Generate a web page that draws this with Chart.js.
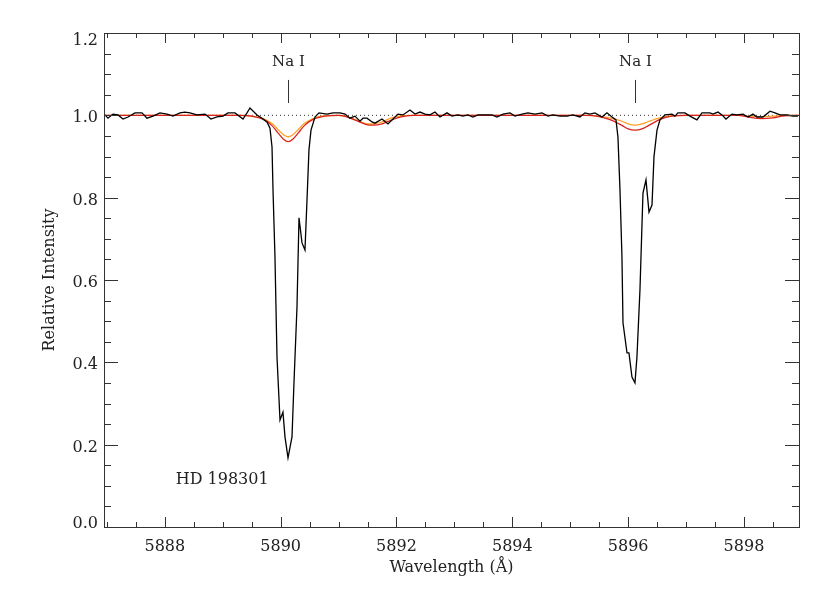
<!DOCTYPE html>
<html>
<head>
<meta charset="utf-8">
<script src="https://cdn.jsdelivr.net/npm/chart.js@4.4.0/dist/chart.umd.min.js"></script>
<style>
  html, body { margin: 0; padding: 0; background: #fff; }
  #wrap { width: 830px; height: 593px; }
</style>
</head>
<body>
<div id="wrap"><canvas id="spec"></canvas></div>
<script>
// observed spectrum (wavelength in A, relative intensity)
const waveObs = [
  5886.967, 5887.019, 5887.105, 5887.192, 5887.278, 5887.364, 5887.485, 5887.606, 5887.692, 5887.796,
  5887.917, 5888.038, 5888.141, 5888.262, 5888.348, 5888.435, 5888.556, 5888.694, 5888.797, 5888.901,
  5889.005, 5889.091, 5889.212, 5889.350, 5889.419, 5889.471, 5889.592, 5889.678, 5889.764, 5889.816,
  5889.851, 5889.868, 5889.902, 5889.937, 5889.989, 5890.040, 5890.075, 5890.127, 5890.196, 5890.230,
  5890.282, 5890.317, 5890.369, 5890.420, 5890.455, 5890.489, 5890.524, 5890.593, 5890.662, 5890.800,
  5890.904, 5891.025, 5891.111, 5891.197, 5891.283, 5891.370, 5891.422, 5891.491, 5891.577, 5891.629,
  5891.750, 5891.853, 5891.940, 5892.026, 5892.112, 5892.233, 5892.320, 5892.406, 5892.492, 5892.578,
  5892.665, 5892.751, 5892.872, 5892.958, 5893.062, 5893.148, 5893.234, 5893.320, 5893.407, 5893.528,
  5893.649, 5893.735, 5893.839, 5893.960, 5894.046, 5894.167, 5894.270, 5894.391, 5894.512, 5894.616,
  5894.702, 5894.823, 5894.944, 5895.047, 5895.168, 5895.254, 5895.341, 5895.427, 5895.548, 5895.634,
  5895.721, 5895.790, 5895.824, 5895.859, 5895.893, 5895.911, 5895.980, 5896.014, 5896.066, 5896.118,
  5896.152, 5896.204, 5896.256, 5896.308, 5896.360, 5896.412, 5896.446, 5896.498, 5896.550, 5896.636,
  5896.757, 5896.808, 5896.860, 5896.981, 5897.067, 5897.188, 5897.274, 5897.413, 5897.464, 5897.551,
  5897.620, 5897.689, 5897.793, 5897.879, 5897.983, 5898.069, 5898.155, 5898.224, 5898.328, 5898.449,
  5898.535, 5898.621, 5898.742, 5898.846, 5898.932
];
const fluxObs = [
  1.001, 0.993, 1.003, 1.001, 0.991, 0.996, 1.006, 1.006, 0.993, 0.998,
  1.006, 1.003, 0.998, 1.006, 1.008, 1.006, 1.001, 1.003, 0.991, 0.996,
  0.998, 1.006, 1.006, 0.991, 1.006, 1.018, 1.001, 0.993, 0.984, 0.969,
  0.923, 0.819, 0.656, 0.413, 0.260, 0.279, 0.219, 0.168, 0.219, 0.350,
  0.534, 0.751, 0.690, 0.673, 0.794, 0.916, 0.964, 0.996, 1.006, 1.003,
  1.006, 1.006, 1.003, 0.993, 0.998, 0.986, 0.993, 0.993, 0.984, 0.981,
  0.991, 0.979, 0.991, 1.003, 1.001, 1.013, 1.003, 1.008, 1.003, 1.001,
  1.008, 0.996, 1.006, 0.998, 1.001, 0.998, 1.001, 0.996, 1.001, 1.001,
  1.001, 0.996, 1.003, 1.006, 0.998, 1.003, 1.006, 1.003, 1.006, 0.998,
  1.001, 0.998, 0.998, 1.001, 0.996, 1.006, 1.003, 1.006, 0.996, 1.006,
  0.996, 0.989, 0.947, 0.819, 0.656, 0.496, 0.423, 0.423, 0.364, 0.350,
  0.413, 0.576, 0.811, 0.843, 0.765, 0.782, 0.899, 0.964, 0.989, 1.001,
  1.003, 0.998, 1.006, 1.006, 0.998, 0.989, 1.006, 1.006, 1.003, 1.008,
  1.001, 0.991, 1.003, 1.001, 1.003, 0.996, 1.003, 0.996, 0.996, 1.010,
  1.006, 1.001, 1.001, 0.998, 0.998
];

// model profiles
const waveModel = [
  5886.95, 5889.30, 5889.50, 5889.70, 5889.85, 5889.95, 5890.05, 5890.13, 5890.21, 5890.31,
  5890.41, 5890.56, 5890.76, 5891.00, 5891.10, 5891.30, 5891.50, 5891.60, 5891.75, 5891.90,
  5892.10, 5892.30, 5895.30, 5895.50, 5895.70, 5895.90, 5896.00, 5896.12, 5896.24, 5896.35,
  5896.55, 5896.75, 5897.00, 5897.90, 5898.10, 5898.30, 5898.50, 5898.70, 5898.95
];
const fluxRed = [
  1.000, 1.000, 0.998, 0.990, 0.975, 0.958, 0.942, 0.936, 0.942, 0.958,
  0.975, 0.990, 0.998, 1.000, 0.998, 0.988, 0.977, 0.976, 0.979, 0.988,
  0.997, 1.000, 1.000, 0.997, 0.989, 0.975, 0.967, 0.964, 0.967, 0.975,
  0.990, 0.998, 1.000, 1.000, 0.995, 0.992, 0.994, 0.999, 1.000
];
const fluxOrange = [
  1.000, 1.000, 0.998, 0.992, 0.980, 0.966, 0.953, 0.948, 0.953, 0.966,
  0.980, 0.992, 0.999, 1.000, 0.998, 0.989, 0.979, 0.979, 0.984, 0.993,
  0.999, 1.000, 1.000, 0.998, 0.993, 0.985, 0.979, 0.976, 0.979, 0.985,
  0.994, 0.999, 1.000, 1.000, 0.998, 0.997, 0.998, 1.000, 1.000
];

const xTicks = [5888, 5890, 5892, 5894, 5896, 5898];
const yTicks = [0.0, 0.2, 0.4, 0.6, 0.8, 1.0, 1.2];
const lineWaves = [5890.13, 5896.12];
const lineNames = ['Na I', 'Na I'];
const starName = 'HD 198301';

const FONT = '"DejaVu Serif", serif';
const toPts = (xs, ys) => xs.map((x, i) => ({ x: x, y: ys[i] }));

// frame, inward ticks, tick labels and annotations in IDL style
const idlFrame = {
  id: 'idlFrame',
  afterDatasetsDraw(chart) {
    const ctx = chart.ctx;
    const { left, right, top, bottom } = chart.chartArea;
    const xs = chart.scales.x, ys = chart.scales.y;
    ctx.save();
    ctx.strokeStyle = '#333';
    ctx.lineWidth = 1;
    ctx.strokeRect(left + 0.5, top + 0.5, right - left, bottom - top);
    ctx.beginPath();
    for (let v = 5887; v <= 5898.95; v += 0.5) {
      const px = Math.round(xs.getPixelForValue(v)) + 0.5;
      const len = (v % 2 === 0) ? 10 : 5;
      ctx.moveTo(px, bottom); ctx.lineTo(px, bottom - len);
      ctx.moveTo(px, top); ctx.lineTo(px, top + len);
    }
    for (let k = 0; k <= 24; k++) {
      const v = k * 0.05;
      const py = Math.round(ys.getPixelForValue(v)) + 0.5;
      const len = (k % 4 === 0) ? 14 : 7;
      ctx.moveTo(left, py); ctx.lineTo(left + len, py);
      ctx.moveTo(right, py); ctx.lineTo(right - len, py);
    }
    ctx.stroke();

    ctx.fillStyle = '#222';
    ctx.font = '16px ' + FONT;
    ctx.textBaseline = 'middle';

    // y tick labels, end labels kept inside the axis span
    ctx.textAlign = 'right';
    yTicks.forEach((v, i) => {
      let off = 3;
      if (i === 0) off = -3;
      if (i === yTicks.length - 1) off = 8;
      ctx.fillText(v.toFixed(1), left - 6, ys.getPixelForValue(v) + off);
    });

    // x tick labels
    ctx.textAlign = 'center';
    xTicks.forEach((v) => {
      ctx.fillText(v.toFixed(0), xs.getPixelForValue(v), bottom + 20);
    });

    // line identifications
    ctx.font = '15px ' + FONT;
    ctx.beginPath();
    lineWaves.forEach((w, i) => {
      const px = Math.round(xs.getPixelForValue(w)) + 0.5;
      ctx.moveTo(px, ys.getPixelForValue(1.086));
      ctx.lineTo(px, ys.getPixelForValue(1.030));
      ctx.fillText(lineNames[i], px, ys.getPixelForValue(1.129));
    });
    ctx.stroke();

    ctx.font = '16px ' + FONT;
    ctx.fillText(starName, xs.getPixelForValue(5888.99), ys.getPixelForValue(0.114));
    ctx.restore();
  }
};

new Chart(document.getElementById('spec'), {
  type: 'line',
  data: {
    datasets: [
      {
        label: 'observed',
        data: toPts(waveObs, fluxObs),
        borderColor: '#000',
        borderWidth: 1.3,
        pointRadius: 0,
        tension: 0,
        order: 0,
      },
      {
        label: 'model red',
        data: toPts(waveModel, fluxRed),
        borderColor: '#d9221c',
        borderWidth: 1.3,
        pointRadius: 0,
        cubicInterpolationMode: 'monotone',
        order: 1,
      },
      {
        label: 'model orange',
        data: toPts(waveModel, fluxOrange),
        borderColor: '#ffa126',
        borderWidth: 1.3,
        pointRadius: 0,
        cubicInterpolationMode: 'monotone',
        order: 2,
      },
      {
        label: 'continuum',
        data: [{ x: 5886.95, y: 1.0 }, { x: 5898.95, y: 1.0 }],
        borderColor: '#333',
        borderWidth: 1,
        borderDash: [1, 3],
        pointRadius: 0,
        order: 3,
      },
    ],
  },
  options: {
    responsive: true,
    maintainAspectRatio: false,
    animation: false,
    devicePixelRatio: 1,
    layout: { padding: { left: 0, right: 31, top: 33, bottom: 0 } },
    plugins: { legend: { display: false }, tooltip: { enabled: false } },
    scales: {
      x: {
        type: 'linear',
        min: 5886.95,
        max: 5898.95,
        grid: { display: false },
        border: { display: false },
        afterBuildTicks: (scale) => { scale.ticks = xTicks.map(v => ({ value: v })); },
        afterFit: (scale) => { scale.height = 66; },
        ticks: { display: false },
        title: {
          display: true,
          text: 'Wavelength (Å)',
          color: '#222',
          font: { family: FONT, size: 16 },
          padding: { top: 0, bottom: 16 },
        },
      },
      y: {
        min: 0,
        max: 1.2,
        grid: { display: false },
        border: { display: false },
        afterBuildTicks: (scale) => { scale.ticks = yTicks.map(v => ({ value: v })); },
        afterFit: (scale) => { scale.width = 104; },
        ticks: { display: false },
        title: {
          display: true,
          text: 'Relative Intensity',
          color: '#222',
          font: { family: FONT, size: 16 },
          padding: { top: 40, bottom: 0 },
        },
      },
    },
  },
  plugins: [idlFrame],
});
</script>
</body>
</html>
